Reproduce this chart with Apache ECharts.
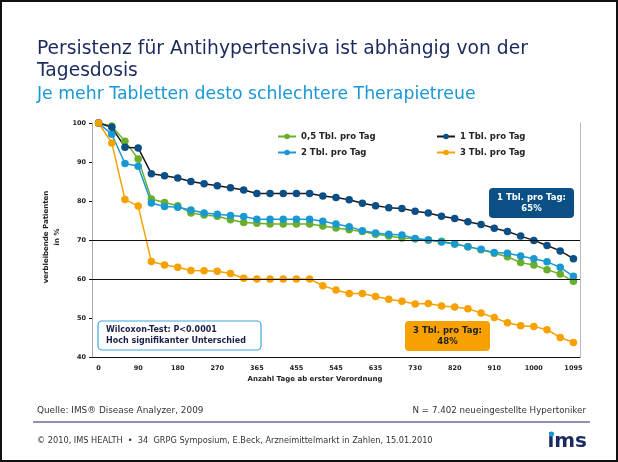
<!DOCTYPE html>
<html>
<head>
<meta charset="utf-8">
<script src="https://cdn.jsdelivr.net/npm/echarts@6/dist/echarts.min.js"></script>
<style>
html,body{margin:0;padding:0;background:#fff;}
#chart{width:618px;height:462px;}
</style>
</head>
<body>
<div id="chart"></div>
<script>
// tick labels on the day axis (every third month)
var dayTicks = ['0', '90', '180', '270', '365', '455', '545', '635', '730', '820', '910', '1000', '1095'];

var seriesNames = ['0,5 Tbl. pro Tag', '1 Tbl. pro Tag', '2 Tbl. pro Tag', '3 Tbl. pro Tag'];

// remaining patients in %, one value per month
var halfPerDay = [100, 99.2, 95.3, 90.8, 80.5, 79.6, 78.8, 76.9, 76.4, 76.1, 75.2, 74.5, 74.3, 74.1, 74.1, 74.1, 74.1, 73.6, 73.1,
    72.6, 72.2, 71.5, 71.0, 70.5, 70.3, 70.0, 69.7, 69.0, 68.3, 67.5, 66.6, 65.7, 64.2, 63.6, 62.4, 61.3, 59.4];
var onePerDay = [100, 98.9, 93.8, 93.6, 87.0, 86.5, 85.9, 85.0, 84.4, 83.9, 83.4, 82.8, 81.9, 81.9, 81.9, 81.9, 81.9, 81.3, 80.9,
    80.3, 79.4, 78.8, 78.3, 78.1, 77.4, 76.9, 76.1, 75.5, 74.7, 74.0, 73.0, 72.2, 71.0, 69.9, 68.6, 67.2, 65.2];
var twoPerDay = [100, 97.1, 89.6, 88.9, 79.5, 78.6, 78.4, 77.7, 76.9, 76.6, 76.3, 76.0, 75.3, 75.3, 75.3, 75.3, 75.3, 74.8, 74.1,
    73.4, 72.4, 71.8, 71.5, 71.3, 70.4, 70.0, 69.5, 69.0, 68.3, 67.6, 66.8, 66.6, 65.9, 65.2, 64.4, 63.0, 60.7];
var threePerDay = [100, 94.9, 80.4, 78.7, 64.5, 63.6, 63.0, 62.2, 62.1, 62.0, 61.4, 60.2, 60.0, 60.0, 60.0, 60.0, 60.0, 58.3, 57.2,
    56.3, 56.3, 55.5, 54.8, 54.3, 53.6, 53.7, 53.1, 52.8, 52.4, 51.3, 50.1, 48.8, 48.0, 47.8, 47.0, 45.0, 43.7];

var refLines = [70, 60];

var months = halfPerDay.map(function (v, i) {
    return i % 3 === 0 ? dayTicks[i / 3] : '';
});

var navy = '#1b2a5e';
var font = 'DejaVu Sans';

function lineSeries(name, values, color, lineColor) {
    return {
        name: name,
        type: 'line',
        data: values,
        symbol: 'circle',
        symbolSize: 7.5,
        itemStyle: {color: color},
        lineStyle: {color: lineColor || color, width: 1.5},
        emphasis: {disabled: true},
        animation: false
    };
}

var green = lineSeries(seriesNames[0], halfPerDay, '#6aae2a');
green.markLine = {
    silent: true,
    symbol: 'none',
    label: {show: false},
    lineStyle: {color: '#111', width: 1, type: 'solid'},
    data: refLines.map(function (v) { return {yAxis: v}; })
};

var legendText = {fontFamily: font, fontWeight: 'bold', fontSize: 8.5, color: '#222'};

var chart = echarts.init(document.getElementById('chart'));
chart.setOption({
    backgroundColor: '#fff',
    animation: false,
    grid: {left: 92, right: 38, top: 123, bottom: 105},
    legend: [{
        left: 272, top: 127, orient: 'vertical', itemGap: 7, itemWidth: 18, itemHeight: 7,
        data: [seriesNames[0], seriesNames[2]], textStyle: legendText
    }, {
        left: 431, top: 127, orient: 'vertical', itemGap: 7, itemWidth: 18, itemHeight: 7,
        data: [seriesNames[1], seriesNames[3]], textStyle: legendText
    }],
    xAxis: {
        type: 'category',
        data: months,
        boundaryGap: true,
        axisLine: {lineStyle: {color: '#111', width: 1}},
        axisTick: {interval: 0, length: 3, lineStyle: {color: '#111'}},
        axisLabel: {interval: 2, margin: 8, fontFamily: font, fontWeight: 'bold', fontSize: 6.5, color: '#222'}
    },
    yAxis: [{
        type: 'value',
        min: 40, max: 100, interval: 10,
        axisLine: {show: true, lineStyle: {color: '#aaa'}},
        axisTick: {show: true, length: 3, lineStyle: {color: '#111'}},
        splitLine: {show: false},
        axisLabel: {margin: 6, fontFamily: font, fontWeight: 'bold', fontSize: 6.5, color: '#222'}
    }, {
        type: 'value',
        position: 'right',
        min: 40, max: 100, interval: 10,
        axisLine: {show: true, lineStyle: {color: '#bbb'}},
        axisTick: {show: false},
        axisLabel: {show: false},
        splitLine: {show: false}
    }],
    series: [
        green,
        lineSeries(seriesNames[2], twoPerDay, '#1a98d0'),
        lineSeries(seriesNames[1], onePerDay, '#0b4f86', '#1a1a1a'),
        lineSeries(seriesNames[3], threePerDay, '#f7a100')
    ],
    graphic: [
        {type: 'rect', shape: {x: 1, y: 1, width: 616, height: 460}, style: {fill: 'none', stroke: '#111', lineWidth: 2}, z: 100},
        {type: 'text', x: 37, y: 49, style: {text: 'Persistenz für Antihypertensiva ist abhängig von der', font: '18.7px "DejaVu Sans"', fill: navy, verticalAlign: 'middle'}},
        {type: 'text', x: 37, y: 71, style: {text: 'Tagesdosis', font: '18.7px "DejaVu Sans"', fill: navy, verticalAlign: 'middle'}},
        {type: 'text', x: 37, y: 95, style: {text: 'Je mehr Tabletten desto schlechtere Therapietreue', font: '17.3px "DejaVu Sans"', fill: '#1a97d5', verticalAlign: 'middle'}},
        {type: 'text', x: 52, y: 237, rotation: Math.PI / 2,
            style: {text: 'verbleibende Patienten\nin %', font: 'bold 7px "DejaVu Sans"', fill: '#222', align: 'center', verticalAlign: 'middle', lineHeight: 11}},
        {type: 'text', x: 315, y: 379, style: {text: 'Anzahl Tage ab erster Verordnung', font: 'bold 7px "DejaVu Sans"', fill: '#222', align: 'center', verticalAlign: 'middle'}},
        // annotation boxes
        {type: 'rect', shape: {x: 489, y: 188, width: 85, height: 30, r: 4}, style: {fill: '#0b5085'}, z: 50},
        {type: 'text', x: 531.5, y: 203, z: 51, style: {text: '1 Tbl. pro Tag:\n65%', font: 'bold 8.5px "DejaVu Sans"', fill: '#fff', align: 'center', verticalAlign: 'middle', lineHeight: 11}},
        {type: 'rect', shape: {x: 405, y: 321, width: 85, height: 30, r: 4}, style: {fill: '#f7a100'}, z: 50},
        {type: 'text', x: 447.5, y: 336, z: 51, style: {text: '3 Tbl. pro Tag:\n48%', font: 'bold 8.5px "DejaVu Sans"', fill: '#222', align: 'center', verticalAlign: 'middle', lineHeight: 11}},
        {type: 'rect', shape: {x: 98, y: 321, width: 163, height: 29, r: 4}, style: {fill: '#fff', stroke: '#3aa7dc', lineWidth: 1.2}, z: 50},
        {type: 'text', x: 106, y: 335.5, z: 51, style: {text: 'Wilcoxon-Test: P<0.0001\nHoch signifikanter Unterschied', font: 'bold 8px "DejaVu Sans"', fill: '#1a1f4a', verticalAlign: 'middle', lineHeight: 11}},
        // footer
        {type: 'text', x: 37, y: 411, style: {text: 'Quelle: IMS® Disease Analyzer, 2009', font: '8.9px "DejaVu Sans"', fill: '#333', verticalAlign: 'middle'}},
        {type: 'text', x: 586, y: 411, style: {text: 'N = 7.402 neueingestellte Hypertoniker', font: '8.7px "DejaVu Sans"', fill: '#333', align: 'right', verticalAlign: 'middle'}},
        {type: 'line', shape: {x1: 33, y1: 422, x2: 590, y2: 422}, style: {stroke: '#6a6f99', lineWidth: 1.5}},
        {type: 'text', x: 37, y: 441, style: {text: '© 2010, IMS HEALTH  •  34  GRPG Symposium, E.Beck, Arzneimittelmarkt in Zahlen, 15.01.2010', font: '8.2px "DejaVu Sans"', fill: '#333', verticalAlign: 'middle'}},
        {type: 'text', x: 587, y: 442, style: {text: 'ims', font: 'bold 20px "DejaVu Sans"', fill: navy, align: 'right', verticalAlign: 'middle'}},
        {type: 'circle', shape: {cx: 551.5, cy: 434, r: 2.6}, style: {fill: '#1a97d5'}, z: 60}
    ]
});
</script>
</body>
</html>
